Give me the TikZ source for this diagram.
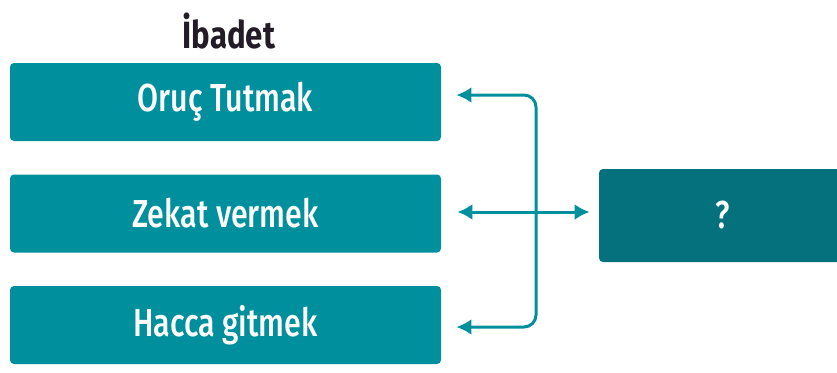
\documentclass[tikz,border=0pt]{standalone}
\usepackage{fontspec}
\setmainfont{Fira Sans}[FakeStretch=0.82]
\newfontfamily\boxfont{Fira Sans Medium}[FakeStretch=0.78]
\usetikzlibrary{arrows.meta}
\definecolor{ibteal}{RGB}{0,143,156}
\definecolor{ibdark}{RGB}{5,113,125}
\definecolor{ibtitle}{RGB}{35,28,38}
\tikzset{
  item/.style={fill=ibteal, rounded corners=2pt, minimum width=215.5pt,
    minimum height=39pt, inner sep=0pt, text=white, font=\boxfont\fontsize{19.5}{22}\selectfont},
  goal/.style={item, fill=ibdark, minimum width=124pt, minimum height=46.5pt},
  link/.style={ibteal, line width=1.5pt, {Latex[length=7.5pt,width=8pt]}-{Latex[length=7.5pt,width=8pt]}}
}
\begin{document}
\begin{tikzpicture}[x=0.5pt,y=-0.5pt]
    \useasboundingbox (0,0) rectangle (837,372);
    \node [text=ibtitle, font=\fontsize{19}{22}\selectfont\bfseries] (title) at (229,31) {İbadet};
    \foreach \name/\txt/\y in {fast/Oruç Tutmak/102, zakat/Zekat vermek/213.5, hajj/Hacca gitmek/325}
    \node [item] (\name) at (225.5,\y) {\txt};
    \node [goal] (unknown) at (723,215.5) {?};
    \coordinate (hub) at (536,212);
    % fan out from the middle line
    \draw [link, rounded corners=6pt] ([shift={(7.5pt,3.5pt)}]fast.east) -| (hub) |- ([shift={(7.5pt,-1pt)}]hajj.east);
    \draw [link] ([xshift=8pt]zakat.east |- hub) -- ([xshift=-4.5pt]unknown.west |- hub);
\end{tikzpicture}
\end{document}
